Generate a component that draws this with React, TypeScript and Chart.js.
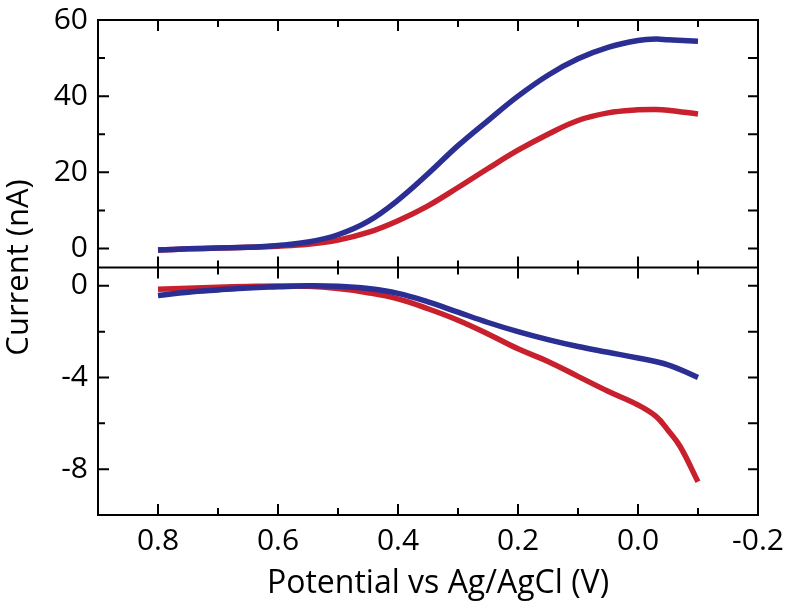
import React, { useEffect, useRef } from "react";
import { Chart, registerables } from "chart.js";
Chart.register(...registerables);

// ---- data ----
const xTop = [0.8, 0.75, 0.7, 0.65, 0.6, 0.55, 0.5, 0.45, 0.4, 0.35, 0.3, 0.25, 0.2, 0.15, 0.1, 0.05, 0.0, -0.03, -0.05, -0.1];
const blueTop = [-0.4, -0.1, 0.1, 0.3, 0.8, 1.7, 3.6, 7.1, 12.7, 19.6, 27, 33.6, 40, 45.5, 49.8, 52.8, 54.6, 55, 54.8, 54.4];
const redTop = [-0.4, -0.1, 0.1, 0.3, 0.6, 1.1, 2.2, 4.2, 7.3, 11.2, 16, 21, 25.8, 30, 33.6, 35.6, 36.4, 36.5, 36.3, 35.3];

const xBlueBottom = [0.8, 0.75, 0.7, 0.65, 0.6, 0.55, 0.5, 0.45, 0.4, 0.35, 0.3, 0.25, 0.2, 0.15, 0.1, 0.05, 0.0, -0.05, -0.1];
const blueBottom = [-0.42, -0.28, -0.18, -0.09, -0.04, 0, -0.02, -0.12, -0.33, -0.7, -1.15, -1.6, -2.0, -2.35, -2.65, -2.9, -3.15, -3.45, -4.0];
const xRedBottom = [0.8, 0.75, 0.7, 0.65, 0.6, 0.55, 0.5, 0.45, 0.4, 0.35, 0.3, 0.25, 0.2, 0.15, 0.1, 0.05, 0.0, -0.03, -0.05, -0.07, -0.1];
const redBottom = [-0.15, -0.1, -0.06, -0.03, -0.01, -0.02, -0.12, -0.3, -0.57, -1.0, -1.5, -2.1, -2.75, -3.3, -3.95, -4.6, -5.2, -5.7, -6.3, -7.0, -8.55];

const xMajorTicks = [0.8, 0.6, 0.4, 0.2, 0.0, -0.2];
const xMinorTicks = [0.7, 0.5, 0.3, 0.1, -0.1];
const topMajorTicks = [0, 20, 40, 60];
const topMinorTicks = [10, 30, 50];
const bottomMajorTicks = [0, -4, -8];
const bottomMinorTicks = [-2, -6];

const xTitle = "Potential vs Ag/AgCl (V)";
const yTitle = "Current (nA)";

const BLUE = "#2b2e92";
const RED = "#c8202c";
const FONT = "'Open Sans', 'DejaVu Sans', sans-serif";
const FS = 30;

const pts = (xs: number[], ys: number[]) => xs.map((x, i) => ({ x, y: ys[i] }));

const framePlugin = {
  id: "frame",
  afterDatasetsDraw(chart: any) {
    const ctx = chart.ctx;
    const a = chart.chartArea;
    const xs = chart.scales.x;
    const yt = chart.scales.yTop;
    const yb = chart.scales.yBot;
    const mid = yt.bottom;
    ctx.save();
    ctx.strokeStyle = "#000";
    ctx.lineWidth = 2;
    ctx.strokeRect(a.left, a.top, a.right - a.left, a.bottom - a.top);
    ctx.beginPath();
    ctx.moveTo(a.left, mid);
    ctx.lineTo(a.right, mid);
    const vt = (v: number, len: number) => {
      const px = xs.getPixelForValue(v);
      ctx.moveTo(px, a.top);
      ctx.lineTo(px, a.top + len);
      ctx.moveTo(px, mid - len);
      ctx.lineTo(px, mid + len);
      ctx.moveTo(px, a.bottom);
      ctx.lineTo(px, a.bottom - len);
    };
    xMajorTicks.forEach((v) => vt(v, 11));
    xMinorTicks.forEach((v) => vt(v, 7));
    const ht = (sc: any, v: number, len: number, rlen: number) => {
      const py = sc.getPixelForValue(v);
      ctx.moveTo(a.left, py);
      ctx.lineTo(a.left + len, py);
      ctx.moveTo(a.right, py);
      ctx.lineTo(a.right - rlen, py);
    };
    topMajorTicks.forEach((v) => ht(yt, v, 11, 10));
    topMinorTicks.forEach((v) => ht(yt, v, 7, 10));
    bottomMajorTicks.forEach((v) => ht(yb, v, 11, 10));
    bottomMinorTicks.forEach((v) => ht(yb, v, 7, 10));
    ctx.stroke();

    ctx.fillStyle = "#000";
    ctx.textAlign = "center";
    ctx.textBaseline = "middle";
    ctx.font = `32px ${FONT}`;
    ctx.fillText(xTitle, (a.left + a.right) / 2 + 10, 584);
    ctx.font = `31px ${FONT}`;
    ctx.translate(19, (a.top + a.bottom) / 2);
    ctx.rotate(-Math.PI / 2);
    ctx.fillText(yTitle, 0, 0);
    ctx.restore();
  },
};

export default function App() {
  const ref = useRef<HTMLCanvasElement | null>(null);
  useEffect(() => {
    if (!ref.current) return;
    const tickFont = { family: FONT, size: FS };
    const zeroPad = (s: any) => { s.paddingTop = 0; s.paddingBottom = 0; s.paddingLeft = 0; s.paddingRight = 0; };
    const ds = (data: any[], axis: string, color: string) => ({
      data, yAxisID: axis, borderColor: color, borderWidth: 5.5, pointRadius: 0, tension: 0.4,
      borderCapStyle: "butt", borderJoinStyle: "round",
    });
    const chart = new Chart(ref.current, {
      type: "line",
      data: {
        datasets: [
          ds(pts(xTop, blueTop), "yTop", BLUE),
          ds(pts(xTop, redTop), "yTop", RED),
          ds(pts(xBlueBottom, blueBottom), "yBot", BLUE),
          ds(pts(xRedBottom, redBottom), "yBot", RED),
        ],
      } as any,
      options: {
        responsive: false,
        animation: false,
        layout: { padding: { top: 20, right: 37, left: 0, bottom: 0 } },
        plugins: { legend: { display: false }, tooltip: { enabled: false } },
        scales: {
          x: {
            type: "linear",
            reverse: true,
            min: -0.2,
            max: 0.9,
            grid: { display: false, drawTicks: false },
            border: { display: false },
            afterBuildTicks: (s: any) => { s.ticks = xMajorTicks.map((v) => ({ value: v })); },
            afterFit: (s: any) => { s.height = 95; zeroPad(s); },
            ticks: { color: "#000", font: tickFont, padding: 8, maxRotation: 0, autoSkip: false, callback: (v: any) => Number(v).toFixed(1) },
          },
          yBot: {
            type: "linear",
            position: "left",
            stack: "v",
            stackWeight: 1,
            min: -10,
            max: 0.8,
            grid: { display: false, drawTicks: false },
            border: { display: false },
            afterBuildTicks: (s: any) => { s.ticks = bottomMajorTicks.map((v) => ({ value: v })); },
            afterFit: (s: any) => { s.width = 98; zeroPad(s); },
            ticks: { color: "#000", font: tickFont, padding: 10 },
          },
          yTop: {
            type: "linear",
            position: "left",
            stack: "v",
            stackWeight: 1,
            min: -5,
            max: 60,
            grid: { display: false, drawTicks: false },
            border: { display: false },
            afterBuildTicks: (s: any) => { s.ticks = topMajorTicks.map((v) => ({ value: v })); },
            afterFit: (s: any) => { s.width = 98; zeroPad(s); },
            ticks: { color: "#000", font: tickFont, padding: 10 },
          },
        },
      } as any,
      plugins: [framePlugin],
    });
    return () => chart.destroy();
  }, []);
  return (
    <canvas
      ref={ref}
      width={795}
      height={610}
      style={{ position: "fixed", left: 0, top: 0, display: "block", background: "#fff" }}
    />
  );
}
